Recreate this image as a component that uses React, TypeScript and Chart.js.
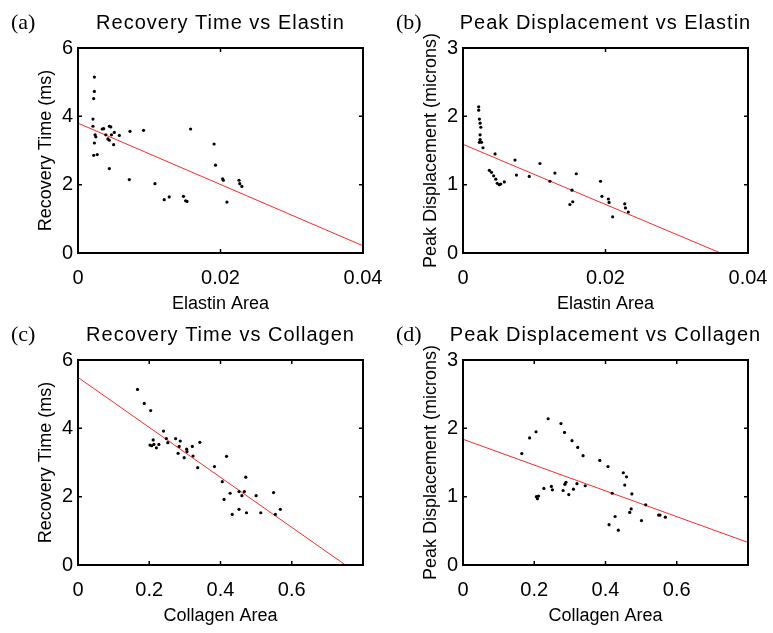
import React, { useEffect, useRef } from "react";
import { Chart, registerables } from "chart.js";

Chart.register(...registerables);

// ---------- Data ----------
// (a) Recovery Time vs Elastin
const elastinA_x = [0.0023, 0.0023, 0.0022, 0.0021, 0.0021, 0.0024, 0.0025, 0.0023, 0.0022, 0.0027, 0.0034, 0.0036, 0.0039, 0.0044, 0.0046, 0.0042, 0.0044, 0.0047, 0.0051, 0.0050, 0.0058, 0.0044, 0.0073, 0.0092, 0.0072, 0.0108, 0.0121, 0.0128, 0.0148, 0.0151, 0.0153, 0.0158, 0.0191, 0.0193, 0.0203, 0.0204, 0.0209, 0.0226, 0.0227, 0.0230];
const recoveryA_y = [5.15, 4.73, 4.52, 3.92, 3.71, 3.46, 3.40, 3.22, 2.86, 2.88, 3.63, 3.64, 3.46, 3.71, 3.69, 3.34, 3.30, 3.46, 3.53, 3.17, 3.44, 2.47, 3.56, 3.59, 2.15, 2.03, 1.56, 1.64, 1.66, 1.53, 1.51, 3.63, 3.19, 2.57, 2.17, 2.13, 1.49, 2.13, 2.03, 1.95];
const fitA_x = [0, 0.04];
const fitA_y = [3.80, 0.21];

// (b) Peak Displacement vs Elastin
const elastinB_x = [0.0022, 0.0022, 0.0023, 0.0024, 0.0025, 0.0024, 0.0024, 0.0023, 0.0026, 0.0028, 0.0045, 0.0037, 0.0040, 0.0043, 0.0046, 0.0048, 0.0051, 0.0053, 0.0058, 0.0073, 0.0075, 0.0093, 0.0108, 0.0122, 0.0129, 0.0153, 0.0154, 0.0150, 0.0159, 0.0193, 0.0195, 0.0204, 0.0205, 0.0210, 0.0227, 0.0228, 0.0232];
const displB_y = [2.14, 2.09, 1.96, 1.90, 1.84, 1.73, 1.66, 1.62, 1.62, 1.54, 1.45, 1.21, 1.18, 1.13, 1.08, 1.02, 1.00, 1.01, 1.04, 1.36, 1.14, 1.12, 1.31, 1.05, 1.17, 0.92, 0.75, 0.71, 1.16, 1.05, 0.83, 0.79, 0.74, 0.53, 0.72, 0.66, 0.60];
const fitB_x = [0, 0.04];
const fitB_y = [1.59, -0.17];

// (c) Recovery Time vs Collagen
const collagenC_x = [0.167, 0.186, 0.204, 0.240, 0.248, 0.252, 0.211, 0.202, 0.207, 0.213, 0.220, 0.227, 0.274, 0.287, 0.284, 0.281, 0.298, 0.305, 0.306, 0.321, 0.323, 0.342, 0.336, 0.383, 0.417, 0.405, 0.410, 0.427, 0.433, 0.452, 0.452, 0.460, 0.467, 0.471, 0.473, 0.500, 0.513, 0.549, 0.554, 0.568];
const recoveryC_y = [5.14, 4.73, 4.52, 3.92, 3.70, 3.58, 3.66, 3.51, 3.49, 3.53, 3.43, 3.53, 3.70, 3.63, 3.47, 3.27, 3.14, 3.39, 3.32, 3.47, 3.19, 3.59, 2.85, 2.88, 3.18, 2.44, 1.92, 2.10, 1.48, 2.15, 1.63, 2.03, 2.15, 2.57, 1.53, 2.03, 1.53, 2.12, 1.48, 1.63];
const fitC_x = [0, 0.8];
const fitC_y = [5.49, -0.36];

// (d) Peak Displacement vs Collagen
const collagenD_x = [0.165, 0.187, 0.205, 0.239, 0.275, 0.285, 0.306, 0.322, 0.337, 0.384, 0.407, 0.450, 0.459, 0.454, 0.474, 0.472, 0.468, 0.501, 0.513, 0.549, 0.553, 0.568, 0.419, 0.427, 0.410, 0.436, 0.206, 0.209, 0.212, 0.227, 0.248, 0.251, 0.281, 0.286, 0.289, 0.297, 0.310, 0.320, 0.343];
const displD_y = [1.63, 1.86, 1.95, 2.14, 2.07, 1.94, 1.82, 1.72, 1.60, 1.53, 1.44, 1.35, 1.29, 1.17, 1.04, 0.82, 0.77, 0.65, 0.88, 0.73, 0.73, 0.70, 1.05, 0.71, 0.59, 0.51, 1.00, 0.97, 1.01, 1.12, 1.15, 1.10, 1.09, 1.18, 1.21, 1.03, 1.11, 1.19, 1.16];
const fitD_x = [0, 0.8];
const fitD_y = [1.84, 0.33];

// Ticks
const recoveryTicks = [0, 2, 4, 6];
const recoveryTickLabels = ["0", "2", "4", "6"];
const displTicks = [0, 1, 2, 3];
const displTickLabels = ["0", "1", "2", "3"];
const elastinTicks = [0, 0.02, 0.04];
const elastinTickLabels = ["0", "0.02", "0.04"];
const collagenTicks = [0, 0.2, 0.4, 0.6, 0.8];
const collagenTickLabels = ["0", "0.2", "0.4", "0.6", ""];

const SANS = '"Liberation Sans", Arial, Helvetica, sans-serif';
const SERIF = '"Liberation Serif", "Times New Roman", serif';

const CW = 385;
const CH = 318;
const PLOT_L = 78;
const PLOT_T = 48;
const PLOT_R = 363;
const PLOT_B = 253;

const decorPlugin = {
  id: "panelDecor",
  afterDraw(chart: any) {
    const ctx = chart.ctx;
    const area = chart.chartArea;
    const meta = chart.options.plugins.panelDecor || {};
    const xs = chart.scales.x;
    const ys = chart.scales.y;
    ctx.save();
    ctx.strokeStyle = "#000000";
    // inward tick marks on all four sides
    ctx.lineWidth = 1.5;
    const tl = 4;
    ctx.beginPath();
    for (const t of xs.ticks) {
      const px = xs.getPixelForValue(t.value);
      ctx.moveTo(px, area.bottom);
      ctx.lineTo(px, area.bottom - tl);
      ctx.moveTo(px, area.top);
      ctx.lineTo(px, area.top + tl);
    }
    for (const t of ys.ticks) {
      const py = ys.getPixelForValue(t.value);
      ctx.moveTo(area.left, py);
      ctx.lineTo(area.left + tl, py);
      ctx.moveTo(area.right, py);
      ctx.lineTo(area.right - tl, py);
    }
    ctx.stroke();
    // box
    ctx.lineWidth = 2;
    ctx.strokeRect(area.left, area.top, area.right - area.left, area.bottom - area.top);
    // titles
    ctx.fillStyle = "#000000";
    ctx.textBaseline = "alphabetic";
    ctx.font = `20px ${SANS}`;
    try { ctx.letterSpacing = "1px"; } catch (e) {}
    ctx.textAlign = "center";
    ctx.fillText(meta.title || "", (area.left + area.right) / 2, 29);
    try { ctx.letterSpacing = "0px"; } catch (e) {}
    ctx.font = `22px ${SERIF}`;
    ctx.textAlign = "left";
    ctx.fillText(meta.label || "", 11, 29);
    ctx.restore();
  },
};

type PanelProps = {
  left: number;
  top: number;
  xs: number[];
  ys: number[];
  fx: number[];
  fy: number[];
  xMax: number;
  yMax: number;
  xTicks: number[];
  xTickLabels: string[];
  yTicks: number[];
  yTickLabels: string[];
  xTitle: string;
  yTitle: string;
  title: string;
  label: string;
};

function Panel(p: PanelProps) {
  const ref = useRef<HTMLCanvasElement | null>(null);
  useEffect(() => {
    if (!ref.current) return;
    const pts = p.xs.map((x, i) => ({ x, y: p.ys[i] }));
    const fit = p.fx.map((x, i) => ({ x, y: p.fy[i] }));
    const chart = new Chart(ref.current, {
      type: "scatter",
      data: {
        datasets: [
          {
            data: pts,
            pointRadius: 1.6,
            pointBackgroundColor: "#000",
            pointBorderWidth: 0,
            showLine: false,
          } as any,
          {
            data: fit,
            showLine: true,
            pointRadius: 0,
            borderColor: "rgb(255,40,40)",
            borderWidth: 1,
            fill: false,
          } as any,
        ],
      },
      options: {
        responsive: false,
        animation: false,
        devicePixelRatio: 1,
        layout: { padding: { top: PLOT_T, right: CW - PLOT_R, left: 0, bottom: 0 } },
        plugins: {
          legend: { display: false },
          tooltip: { enabled: false },
          panelDecor: { title: p.title, label: p.label },
        } as any,
        scales: {
          x: {
            type: "linear",
            min: 0,
            max: p.xMax,
            grid: { display: false, drawTicks: false, tickLength: 0 },
            border: { display: false },
            afterBuildTicks: (s: any) => {
              s.ticks = p.xTicks.map((v) => ({ value: v }));
            },
            afterFit: (s: any) => {
              s.height = CH - PLOT_B;
              s.paddingLeft = 0;
              s.paddingRight = 0;
            },
            ticks: {
              autoSkip: false,
              maxRotation: 0,
              padding: 13,
              color: "#000",
              font: { family: SANS, size: 20 },
              callback: (v: any) => {
                const i = p.xTicks.findIndex((t) => Math.abs(t - Number(v)) < 1e-9);
                return i >= 0 ? p.xTickLabels[i] : "";
              },
            },
            title: {
              display: true,
              text: p.xTitle,
              color: "#000",
              font: { family: SANS, size: 18 },
              padding: { top: 0, bottom: 3 },
            },
          },
          y: {
            type: "linear",
            min: 0,
            max: p.yMax,
            grid: { display: false, drawTicks: false, tickLength: 0 },
            border: { display: false },
            afterBuildTicks: (s: any) => {
              s.ticks = p.yTicks.map((v) => ({ value: v }));
            },
            afterFit: (s: any) => {
              s.width = PLOT_L;
              s.paddingTop = 0;
              s.paddingBottom = 0;
            },
            ticks: {
              autoSkip: false,
              padding: 5,
              color: "#000",
              font: { family: SANS, size: 20 },
              callback: (v: any) => {
                const i = p.yTicks.findIndex((t) => Math.abs(t - Number(v)) < 1e-9);
                return i >= 0 ? p.yTickLabels[i] : "";
              },
            },
            title: {
              display: true,
              text: p.yTitle,
              color: "#000",
              font: { family: SANS, size: 18 },
              padding: { top: 35, bottom: 0 },
            },
          },
        },
      } as any,
      plugins: [decorPlugin as any],
    });
    return () => chart.destroy();
  }, []);
  return (
    <canvas
      ref={ref}
      width={CW}
      height={CH}
      style={{ position: "absolute", left: p.left, top: p.top, width: CW, height: CH }}
    />
  );
}

export default function App() {
  return (
    <div
      style={{
        position: "absolute",
        left: 0,
        top: 0,
        width: 773,
        height: 633,
        background: "#fff",
        overflow: "hidden",
      }}
    >
      <Panel
        left={0}
        top={0}
        xs={elastinA_x}
        ys={recoveryA_y}
        fx={fitA_x}
        fy={fitA_y}
        xMax={0.04}
        yMax={6}
        xTicks={elastinTicks}
        xTickLabels={elastinTickLabels}
        yTicks={recoveryTicks}
        yTickLabels={recoveryTickLabels}
        xTitle="Elastin Area"
        yTitle="Recovery Time (ms)"
        title="Recovery Time vs Elastin"
        label="(a)"
      />
      <Panel
        left={385}
        top={0}
        xs={elastinB_x}
        ys={displB_y}
        fx={fitB_x}
        fy={fitB_y}
        xMax={0.04}
        yMax={3}
        xTicks={elastinTicks}
        xTickLabels={elastinTickLabels}
        yTicks={displTicks}
        yTickLabels={displTickLabels}
        xTitle="Elastin Area"
        yTitle="Peak Displacement (microns)"
        title="Peak Displacement vs Elastin"
        label="(b)"
      />
      <Panel
        left={0}
        top={312}
        xs={collagenC_x}
        ys={recoveryC_y}
        fx={fitC_x}
        fy={fitC_y}
        xMax={0.8}
        yMax={6}
        xTicks={collagenTicks}
        xTickLabels={collagenTickLabels}
        yTicks={recoveryTicks}
        yTickLabels={recoveryTickLabels}
        xTitle="Collagen Area"
        yTitle="Recovery Time (ms)"
        title="Recovery Time vs Collagen"
        label="(c)"
      />
      <Panel
        left={385}
        top={312}
        xs={collagenD_x}
        ys={displD_y}
        fx={fitD_x}
        fy={fitD_y}
        xMax={0.8}
        yMax={3}
        xTicks={collagenTicks}
        xTickLabels={collagenTickLabels}
        yTicks={displTicks}
        yTickLabels={displTickLabels}
        xTitle="Collagen Area"
        yTitle="Peak Displacement (microns)"
        title="Peak Displacement vs Collagen"
        label="(d)"
      />
    </div>
  );
}
